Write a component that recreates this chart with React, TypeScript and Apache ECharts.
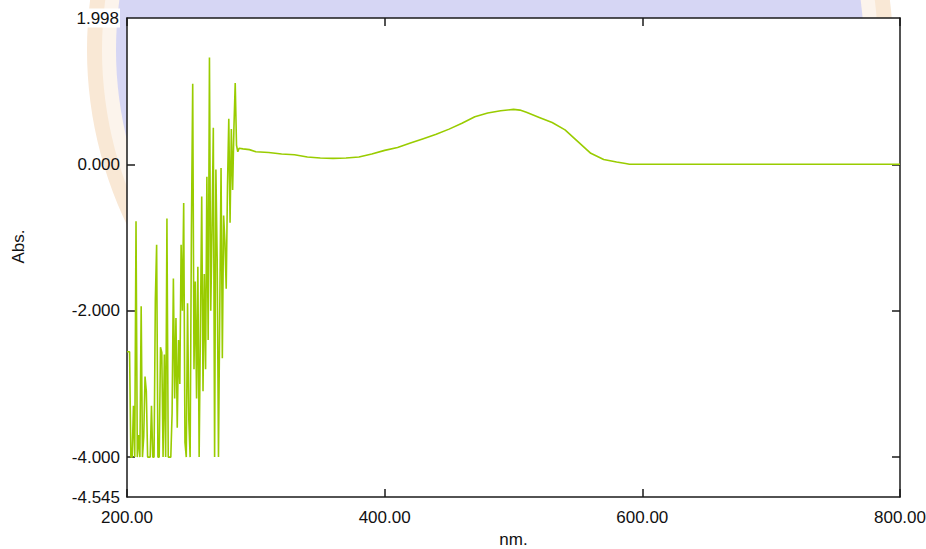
import React, { useEffect, useRef } from "react";
import * as echarts from "echarts";

// Absorbance spectrum, 200–800 nm
// Noisy low-wavelength region, 1 nm steps from 200 nm
const noisyStart = 200;
const noisyAbs = [
  -2.56, -2.56, -2.56, -4.0, -4.0, -3.3, -4.0, -0.78, -4.0, -3.7,
  -4.0, -1.94, -4.0, -3.72, -2.9, -3.1, -4.0, -4.0, -4.0, -3.3,
  -4.0, -4.0, -1.85, -1.1, -4.0, -4.0, -2.5, -2.57, -4.0, -2.6,
  -4.0, -0.74, -4.0, -4.0, -4.0, -3.4, -1.56, -3.2, -2.1, -3.6,
  -2.4, -3.0, -1.1, -2.0, -0.53, -3.8, -4.0, -1.9, -3.5, -4.0,
  -0.9, 1.1, -2.8, -1.6, -3.2, -1.4, -4.0, -2.2, -0.44, -3.1,
  -1.5, -2.8, -0.17, -2.4, 1.46, -2.0, -0.9, 0.5, -4.0, -0.07,
  -1.3, -4.0, -2.0, -0.05, -2.65, -0.7, -1.06, -1.7, -0.3, 0.62,
  -0.8, 0.48, -0.35, 0.5, 1.11, 0.26,
];

// Smooth region
const smoothNm = [
  286, 287, 290, 295, 300, 310, 315, 320, 330, 340, 350, 360, 370, 380, 390,
  400, 410, 420, 430, 440, 450, 460, 470, 480, 490, 500, 505, 510, 520, 530,
  540, 550, 560, 570, 580, 587, 590, 650, 700, 750, 800,
];
const smoothAbs = [
  0.17, 0.22, 0.21, 0.2, 0.17, 0.16, 0.15, 0.14, 0.13, 0.1, 0.086, 0.08, 0.085, 0.1, 0.14,
  0.19, 0.23, 0.29, 0.35, 0.41, 0.48, 0.56, 0.65, 0.7, 0.73, 0.75, 0.74, 0.71, 0.64, 0.57,
  0.47, 0.31, 0.15, 0.065, 0.03, 0.01, 0.0, 0.0, 0.0, 0.0, 0.0,
];

const yLabelValues = [-4.545, -4, -2, 0, 1.998];
const yTickValues = [-4, -2, 0];

const lineColor = "#99cc00";
const fontFamily = "'Liberation Sans', Arial, sans-serif";
const fontSize = 17;

export default function App() {
  const ref = useRef<HTMLDivElement>(null);

  useEffect(() => {
    if (!ref.current) return;
    const chart = echarts.init(ref.current, null, { renderer: "svg" });

    const data: [number, number][] = [];
    noisyAbs.forEach((v, i) => data.push([noisyStart + i, v]));
    smoothNm.forEach((x, i) => data.push([x, smoothAbs[i]]));

    const axisLine = { show: true, onZero: false, lineStyle: { color: "#1a1a1a", width: 1.5 } };
    const tickStyle = { color: "#1a1a1a", width: 1.5 };

    chart.setOption({
      animation: false,
      backgroundColor: "#ffffff",
      graphic: [
        // faint round emblem behind the plot
        { type: "circle", z: -10, shape: { cx: 490, cy: 50, r: 403 }, style: { fill: "#f9e8d5" }, silent: true },
        { type: "circle", z: -10, shape: { cx: 490, cy: 50, r: 388 }, style: { fill: "#fcf4ec" }, silent: true },
        { type: "circle", z: -10, shape: { cx: 490, cy: 50, r: 374 }, style: { fill: "#d6d6f4" }, silent: true },
      ],
      grid: {
        left: 127,
        right: 26,
        top: 18,
        bottom: 52,
        outerBoundsMode: "none",
        containLabel: false,
        show: true,
        backgroundColor: "#ffffff",
        borderWidth: 0,
      },
      xAxis: [
        {
          type: "value",
          min: 200,
          max: 800,
          interval: 200,
          position: "bottom",
          name: "nm.",
          nameLocation: "middle",
          nameGap: 33,
          nameTextStyle: { color: "#111", fontSize, fontFamily },
          axisLine,
          axisTick: { show: true, inside: true, length: 8, lineStyle: tickStyle },
          axisLabel: {
            color: "#111",
            fontSize,
            fontFamily,
            margin: 12,
            formatter: (v: number) => v.toFixed(2),
          },
          splitLine: { show: false },
        },
        {
          type: "value",
          min: 200,
          max: 800,
          interval: 200,
          position: "top",
          axisLine,
          axisTick: { show: true, inside: true, length: 8, lineStyle: tickStyle },
          axisLabel: { show: false },
          splitLine: { show: false },
        },
      ],
      yAxis: [
        {
          type: "value",
          min: -4.545,
          max: 1.998,
          position: "left",
          name: "Abs.",
          nameLocation: "middle",
          nameGap: 100,
          nameRotate: 90,
          nameTextStyle: { color: "#111", fontSize, fontFamily, padding: [0, 0, 0, 22] },
          axisLine,
          axisTick: {
            show: true,
            inside: true,
            length: 8,
            lineStyle: tickStyle,
            customValues: yTickValues,
          },
          axisLabel: {
            color: "#111",
            fontSize,
            fontFamily,
            margin: 7,
            showMinLabel: true,
            showMaxLabel: true,
            customValues: yLabelValues,
            formatter: (v: number) =>
              v === 1.998 ? "{top|" + v.toFixed(3) + "}" : v.toFixed(3),
            rich: {
              top: {
                color: "#111",
                fontSize,
                fontFamily,
                backgroundColor: "#ffffff",
                padding: [1, 1, 1, 2],
              },
            },
          },
          splitLine: { show: false },
        },
        {
          type: "value",
          min: -4.545,
          max: 1.998,
          position: "right",
          axisLine,
          axisTick: {
            show: true,
            inside: true,
            length: 8,
            lineStyle: tickStyle,
            customValues: yTickValues,
          },
          axisLabel: { show: false },
          splitLine: { show: false },
        },
      ],
      series: [
        {
          type: "line",
          data,
          xAxisIndex: 0,
          yAxisIndex: 0,
          showSymbol: false,
          symbol: "none",
          lineStyle: { color: lineColor, width: 1.6 },
          clip: true,
        },
      ],
    });

    return () => chart.dispose();
  }, []);

  return (
    <div
      ref={ref}
      style={{ position: "fixed", left: 0, top: 0, width: 926, height: 549 }}
    />
  );
}
